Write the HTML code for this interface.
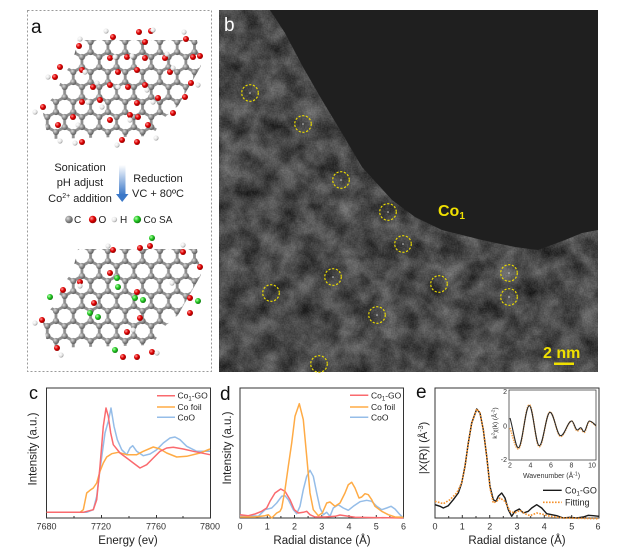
<!DOCTYPE html>
<html><head><meta charset="utf-8"><style>
html,body{margin:0;padding:0;background:#fff;}
svg{display:block;font-family:"Liberation Sans",Arial,sans-serif;}
</style></head><body>
<svg width="619" height="559" viewBox="0 0 619 559" xmlns="http://www.w3.org/2000/svg">
<defs>
<radialGradient id="gG" cx="0.35" cy="0.35" r="0.7"><stop offset="0" stop-color="#dcdcdc"/><stop offset="0.5" stop-color="#909090"/><stop offset="1" stop-color="#555"/></radialGradient>
<radialGradient id="gR" cx="0.35" cy="0.35" r="0.7"><stop offset="0" stop-color="#ff9a9a"/><stop offset="0.5" stop-color="#e00000"/><stop offset="1" stop-color="#8a0000"/></radialGradient>
<radialGradient id="gW" cx="0.35" cy="0.35" r="0.7"><stop offset="0" stop-color="#ffffff"/><stop offset="0.6" stop-color="#e6e6e6"/><stop offset="1" stop-color="#9a9a9a"/></radialGradient>
<radialGradient id="gN" cx="0.35" cy="0.35" r="0.7"><stop offset="0" stop-color="#b8ffb0"/><stop offset="0.5" stop-color="#22c822"/><stop offset="1" stop-color="#0e700e"/></radialGradient>
<linearGradient id="arr" x1="0" y1="0" x2="0" y2="1"><stop offset="0" stop-color="#ffffff"/><stop offset="1" stop-color="#3b78c8"/></linearGradient>
<pattern id="hex" width="17.32" height="30" patternUnits="userSpaceOnUse" x="4" y="2">
<path d="M8.66 0V5M8.66 5L0 10M8.66 5L17.32 10M0 10V20M17.32 10V20M0 20L8.66 25M17.32 20L8.66 25M8.66 25V30" stroke="#8e8e8e" stroke-width="2.8" fill="none"/>
<circle cx="8.66" cy="5" r="3.1" fill="url(#gG)"/><circle cx="0" cy="10" r="3.1" fill="url(#gG)"/><circle cx="17.32" cy="10" r="3.1" fill="url(#gG)"/>
<circle cx="0" cy="20" r="3.1" fill="url(#gG)"/><circle cx="17.32" cy="20" r="3.1" fill="url(#gG)"/><circle cx="8.66" cy="25" r="3.1" fill="url(#gG)"/>
</pattern>
<clipPath id="mol"><polygon points="78,40 197,40 201,66 186,92 178,106 164,118 152,136 48,139 42,108 56,95 63,75 72,64"/></clipPath>
<filter id="noise" x="0" y="0" width="1" height="1" color-interpolation-filters="sRGB">
<feTurbulence type="fractalNoise" baseFrequency="0.05" numOctaves="3" seed="7" result="a"/>
<feColorMatrix in="a" type="matrix" values="1 0 0 0 0  1 0 0 0 0  1 0 0 0 0  0 0 0 0 1" result="a2"/>
<feTurbulence type="fractalNoise" baseFrequency="0.7" numOctaves="1" seed="3" result="b"/>
<feColorMatrix in="b" type="matrix" values="1 0 0 0 0  1 0 0 0 0  1 0 0 0 0  0 0 0 0 1" result="b2"/>
<feComposite in="a2" in2="b2" operator="arithmetic" k1="0" k2="0.72" k3="0.28" k4="0" result="c"/>
<feColorMatrix in="c" type="matrix" values="0.62 0 0 0 -0.02  0.62 0 0 0 -0.02  0.62 0 0 0 -0.02  0 0 0 0 1"/>
</filter>
</defs>
<rect width="619" height="559" fill="#fff"/>

<!-- Panel a -->
<rect x="27.5" y="10.5" width="184" height="361" fill="none" stroke="#9a9a9a" stroke-dasharray="2,2"/>
<text x="31" y="33" font-size="19" fill="#111">a</text>

<g>
<rect x="30" y="30" width="180" height="120" fill="url(#hex)" clip-path="url(#mol)"/>
<g fill="url(#gR)">
<circle cx="79" cy="46" r="3"/><circle cx="113" cy="37" r="3"/><circle cx="139" cy="32" r="3"/><circle cx="151" cy="31" r="3"/><circle cx="145" cy="42" r="3"/><circle cx="186" cy="39" r="3"/><circle cx="193" cy="57" r="3"/><circle cx="200" cy="56" r="3"/><circle cx="60" cy="67" r="3"/><circle cx="55" cy="77" r="3"/><circle cx="110" cy="58" r="3"/><circle cx="127" cy="57" r="3"/><circle cx="145" cy="58" r="3"/><circle cx="165" cy="58" r="3"/><circle cx="82" cy="70" r="3"/><circle cx="118" cy="72" r="3"/><circle cx="137" cy="70" r="3"/><circle cx="170" cy="72" r="3"/><circle cx="93" cy="87" r="3"/><circle cx="110" cy="85" r="3"/><circle cx="128" cy="87" r="3"/><circle cx="145" cy="85" r="3"/><circle cx="158" cy="98" r="3"/><circle cx="185" cy="97" r="3"/><circle cx="191" cy="83" r="3"/><circle cx="82" cy="102" r="3"/><circle cx="100" cy="100" r="3"/><circle cx="137" cy="103" r="3"/><circle cx="43" cy="107" r="3"/><circle cx="58" cy="125" r="3"/><circle cx="73" cy="117" r="3"/><circle cx="82" cy="142" r="3"/><circle cx="110" cy="120" r="3"/><circle cx="130" cy="115" r="3"/><circle cx="138" cy="117" r="3"/><circle cx="122" cy="140" r="3"/><circle cx="137" cy="142" r="3"/><circle cx="148" cy="125" r="3"/><circle cx="173" cy="113" r="3"/>
</g>
<g fill="url(#gW)">
<circle cx="106" cy="31" r="2.6"/><circle cx="153" cy="30" r="2.6"/><circle cx="184" cy="32" r="2.6"/><circle cx="80" cy="39" r="2.6"/><circle cx="48" cy="77" r="2.6"/><circle cx="198" cy="85" r="2.6"/><circle cx="35" cy="112" r="2.6"/><circle cx="60" cy="141" r="2.6"/><circle cx="75" cy="143" r="2.6"/><circle cx="117" cy="145" r="2.6"/><circle cx="156" cy="138" r="2.6"/><circle cx="132" cy="56" r="2.6"/><circle cx="167" cy="54" r="2.6"/><circle cx="85" cy="72" r="2.6"/><circle cx="97" cy="83" r="2.6"/><circle cx="118" cy="87" r="2.6"/><circle cx="147" cy="90" r="2.6"/><circle cx="173" cy="68" r="2.6"/><circle cx="88" cy="102" r="2.6"/><circle cx="102" cy="107" r="2.6"/><circle cx="153" cy="102" r="2.6"/><circle cx="78" cy="125" r="2.6"/><circle cx="130" cy="120" r="2.6"/><circle cx="115" cy="57" r="2.6"/>
</g>
</g>

<g transform="translate(0,209)">
<rect x="30" y="30" width="180" height="120" fill="url(#hex)" clip-path="url(#mol)"/>
</g>
<g fill="url(#gR)">
<circle cx="140" cy="248" r="3"/><circle cx="113" cy="250" r="3"/><circle cx="183" cy="252" r="3"/><circle cx="200" cy="267" r="3"/><circle cx="63" cy="290" r="3"/><circle cx="80" cy="282" r="3"/><circle cx="110" cy="273" r="3"/><circle cx="137" cy="292" r="3"/><circle cx="190" cy="298" r="3"/><circle cx="190" cy="313" r="3"/><circle cx="94" cy="303" r="3"/><circle cx="140" cy="318" r="3"/><circle cx="127" cy="332" r="3"/><circle cx="42" cy="320" r="3"/><circle cx="57" cy="348" r="3"/><circle cx="123" cy="357" r="3"/><circle cx="137" cy="357" r="3"/><circle cx="152" cy="352" r="3"/><circle cx="150" cy="246" r="3"/>
</g>
<g fill="url(#gN)">
<circle cx="152" cy="238" r="3"/><circle cx="117" cy="278" r="3"/><circle cx="118" cy="287" r="3"/><circle cx="50" cy="297" r="3"/><circle cx="135" cy="298" r="3"/><circle cx="143" cy="300" r="3"/><circle cx="90" cy="313" r="3"/><circle cx="98" cy="317" r="3"/><circle cx="198" cy="301" r="3"/><circle cx="115" cy="350" r="3"/>
</g>
<g fill="url(#gW)">
<circle cx="108" cy="246" r="2.6"/><circle cx="183" cy="245" r="2.6"/><circle cx="80" cy="286" r="2.6"/><circle cx="172" cy="283" r="2.6"/><circle cx="35" cy="323" r="2.6"/><circle cx="61" cy="355" r="2.6"/><circle cx="157" cy="353" r="2.6"/><circle cx="133" cy="330" r="2.6"/>
</g>

<g font-size="11" fill="#222" text-anchor="middle">
<text x="80" y="171">Sonication</text>
<text x="80" y="186">pH adjust</text>
<text x="80" y="202">Co<tspan dy="-4" font-size="7">2+</tspan><tspan dy="4"> addition</tspan></text>
<text x="158" y="182">Reduction</text>
<text x="158" y="197">VC + 80ºC</text>
</g>
<rect x="119" y="165" width="6.5" height="30" fill="url(#arr)"/>
<polygon points="116,194 128.5,194 122.2,202" fill="#3b78c8"/>

<circle cx="69" cy="219.5" r="3.8" fill="url(#gG)"/>
<circle cx="92.7" cy="219.5" r="3.8" fill="url(#gR)"/>
<circle cx="114.3" cy="219.5" r="2.8" fill="url(#gW)"/>
<circle cx="137.3" cy="219.5" r="3.8" fill="url(#gN)"/>
<g font-size="10" fill="#222">
<text x="74" y="223">C</text><text x="98.5" y="223">O</text><text x="120" y="223">H</text><text x="143.5" y="223">Co SA</text>
</g>

<!-- Panel b -->
<rect x="219" y="10" width="379" height="362" fill="#4a4a4a" filter="url(#noise)"/>
<path d="M270 10 L285 33 L303 67 L322 100 L342 133 L362 167 L392 200 L415 217 L442 230 L482 240 L515 247 L538 250 L565 240 L582 233 L598 230 L598 10 Z" fill="#1f1f1f"/>
<g fill="none" stroke="#e8d800" stroke-width="1.2" stroke-dasharray="2.2,1.6">
<circle cx="250" cy="93" r="8.3"/><circle cx="303" cy="124" r="8.3"/><circle cx="341" cy="180" r="8.3"/><circle cx="388" cy="212" r="8.3"/><circle cx="403" cy="244" r="8.3"/><circle cx="333" cy="277" r="8.3"/><circle cx="271" cy="293" r="8.3"/><circle cx="377" cy="315" r="8.3"/><circle cx="439" cy="284" r="8.3"/><circle cx="509" cy="273" r="8.3"/><circle cx="509" cy="297" r="8.3"/><circle cx="319" cy="364" r="8.3"/>
</g>
<g fill="#ccc">
<circle cx="250" cy="93" r="0.8"/><circle cx="303" cy="124" r="0.8"/><circle cx="341" cy="180" r="0.8"/><circle cx="388" cy="212" r="0.8"/><circle cx="403" cy="244" r="0.8"/><circle cx="333" cy="277" r="0.8"/><circle cx="377" cy="315" r="0.8"/><circle cx="509" cy="273" r="0.8"/><circle cx="509" cy="297" r="0.8"/>
</g>
<text x="224" y="31" font-size="19" fill="#fff">b</text>
<text x="438" y="216" font-size="16" font-weight="bold" fill="#f0e000">Co<tspan dy="3" font-size="10">1</tspan></text>
<text x="543" y="358" font-size="16" font-weight="bold" fill="#f0e000">2 nm</text>
<rect x="554" y="362.5" width="20" height="2.5" fill="#f0e000"/>

<!-- Panel c -->
<text x="29" y="399" font-size="18" fill="#111">c</text>
<rect x="46.5" y="388" width="164" height="130" fill="none" stroke="#333" stroke-width="1"/>
<g stroke="#333" stroke-width="1">
<path d="M46.5 518v-3M74 518v-2M101.5 518v-3M129 518v-2M156.5 518v-3M183 518v-2M210.5 518v-3"/>
</g>
<g font-size="9" fill="#333" text-anchor="middle">
<text x="46.5" y="529.5">7680</text><text x="101" y="529.5">7720</text><text x="156" y="529.5">7760</text><text x="210" y="529.5">7800</text>
</g>
<text x="128" y="544" font-size="11.5" fill="#222" text-anchor="middle">Energy (ev)</text>
<text transform="translate(36.5,449) rotate(-90)" font-size="11.5" fill="#222" text-anchor="middle">Intensity (a.u.)</text>
<g fill="none" stroke-width="1.5" stroke-linejoin="round">
<polyline stroke="#95bde8" points="46.7,512.3 86.7,512.3 93.3,509.7 96.7,496.3 100,469.7 105,433 108.3,421.3 111,408 114,426.3 117.3,439.7 121.7,449.7 126.7,454.7 130,448 132.7,445.7 136.7,451.3 143.3,455.7 150,454 156.7,449.7 163.3,443 170,438 175,437 180,439.7 186.7,446.3 196.7,451.3 210,451.3"/>
<polyline stroke="#ffab45" points="46.7,512.3 80,512.3 83.3,509.7 86.7,493 90,490.3 93.3,488 96.7,483 100,471.3 103.3,463 106.7,457 111.7,453.7 118.3,452.3 126.7,454.7 136.7,454.7 143.3,451.3 153.3,447 160,449 166.7,453 176.7,457 186.7,456.3 200,453 210,449"/>
<polyline stroke="#fa6a6e" points="46.7,512.3 83.3,512.3 93.3,509.7 96.7,499.7 100,466.3 103.3,426.3 106,408 108.3,416.3 110.7,433 113.3,444.7 120,453 126.7,458 133.3,463 140,468 146.7,464.7 153.3,458 160,451.3 166.7,448 173.3,447.3 183.3,449 193.3,451.3 210,454.7"/>
</g>
<g stroke-width="1.5">
<line x1="157" y1="395.7" x2="175" y2="395.7" stroke="#fa6a6e"/>
<line x1="157" y1="407" x2="175" y2="407" stroke="#ffab45"/>
<line x1="157" y1="417.3" x2="175" y2="417.3" stroke="#95bde8"/>
</g>
<g font-size="8.5" fill="#222">
<text x="177.5" y="398.7">Co<tspan dy="2" font-size="6">1</tspan><tspan dy="-2">-GO</tspan></text>
<text x="177.5" y="410">Co foil</text>
<text x="177.5" y="420.3">CoO</text>
</g>

<!-- Panel d -->
<text x="220" y="400" font-size="19" fill="#111">d</text>
<rect x="240" y="388" width="163.5" height="130" fill="none" stroke="#333" stroke-width="1"/>
<g stroke="#333" stroke-width="1">
<path d="M240 518v-3M253.6 518v-2M267.3 518v-3M280.9 518v-2M294.5 518v-3M308.1 518v-2M321.8 518v-3M335.4 518v-2M349 518v-3M362.6 518v-2M376.3 518v-3M389.9 518v-2M403.5 518v-3"/>
</g>
<g font-size="9" fill="#333" text-anchor="middle">
<text x="240" y="529.5">0</text><text x="267.3" y="529.5">1</text><text x="294.5" y="529.5">2</text><text x="321.8" y="529.5">3</text><text x="349" y="529.5">4</text><text x="376.3" y="529.5">5</text><text x="403.5" y="529.5">6</text>
</g>
<text x="322" y="544" font-size="11.5" fill="#222" text-anchor="middle">Radial distance (Å)</text>
<text transform="translate(231,448) rotate(-90)" font-size="11.5" fill="#222" text-anchor="middle">Intensity (a.u.)</text>
<g fill="none" stroke-width="1.5" stroke-linejoin="round">
<polyline stroke="#95bde8" points="240,516.3 251.7,515.7 258.3,516.3 265,509.7 271.7,508 276.7,503 281.7,496.3 285,495.7 288.3,499.7 293.3,509.7 296.7,513.7 300,506.3 303.3,489.7 306.7,476.3 310,470.3 313.3,476.3 316.7,493 320,508 323.3,514.7 326.7,512.3 330,516.3 333.3,508 338.3,504.7 343.3,508 348.3,510.3 353.3,506.3 360,501.7 366.7,500.3 371.7,501.3 376.7,506.3 381.7,509.7 386.7,508 391,506.3 395,509 400,514.7 403.3,518"/>
<polyline stroke="#fa6a6e" points="240,514.7 248.3,515.7 255,514 261.7,511.3 266.7,508 270,501.3 275,493 280.7,489 285,491.3 290,499.7 294.3,509.7 298.3,513 303.3,512.3 306.7,511.3 310,514.7 315,517 325,517 335,516.3 340,515 345,515.7 355,517.3 403.3,518"/>
<polyline stroke="#ffab45" points="240,517 255,517 265,515.7 268.3,514.7 271.7,518 276.7,513 280,511.3 281.7,508 285,489.7 288.3,466.3 291.7,443 295,416.3 299.3,403.7 303.3,419.7 306.7,456.3 310,493 313.3,509.7 318.3,515.7 322.3,513 326.7,503 330,502 335,506.3 340,503 345,493 348.3,484.7 351.7,482.3 355,488 359,498 361.7,497 365,493.7 368.3,494.7 371.7,499.7 375,506.3 381.7,511.3 388.3,514.7 395,517 403.3,517.3"/>
</g>
<g stroke-width="1.5">
<line x1="350" y1="395.3" x2="368.3" y2="395.3" stroke="#fa6a6e"/>
<line x1="350" y1="407" x2="368.3" y2="407" stroke="#ffab45"/>
<line x1="350" y1="417.3" x2="368.3" y2="417.3" stroke="#95bde8"/>
</g>
<g font-size="8.5" fill="#222">
<text x="371" y="398.3">Co<tspan dy="2" font-size="6">1</tspan><tspan dy="-2">-GO</tspan></text>
<text x="371" y="410">Co foil</text>
<text x="371" y="420.3">CoO</text>
</g>

<!-- Panel e -->
<text x="416" y="398" font-size="19" fill="#111">e</text>
<rect x="435" y="388" width="164" height="130" fill="none" stroke="#333" stroke-width="1"/>
<g stroke="#333" stroke-width="1">
<path d="M435 518v-3M448.7 518v-2M462.3 518v-3M476 518v-2M489.7 518v-3M503.3 518v-2M517 518v-3M530.7 518v-2M544.3 518v-3M558 518v-2M571.7 518v-3M585.3 518v-2M599 518v-3"/>
</g>
<g font-size="9" fill="#333" text-anchor="middle">
<text x="435" y="529.5">0</text><text x="462.3" y="529.5">1</text><text x="489.7" y="529.5">2</text><text x="517" y="529.5">3</text><text x="544.3" y="529.5">4</text><text x="571.7" y="529.5">5</text><text x="598" y="529.5">6</text>
</g>
<text x="517" y="544" font-size="11.5" fill="#222" text-anchor="middle">Radial distance (Å)</text>
<text transform="translate(427,448) rotate(-90)" font-size="11" fill="#222" text-anchor="middle">|X(R)| (Å<tspan dy="-4" font-size="7">-3</tspan><tspan dy="4">)</tspan></text>
<g fill="none" stroke-linejoin="round">
<polyline stroke="#1a1a1a" stroke-width="1.4" points="435,504.7 440,506.3 443.3,508 448.3,505.7 453.3,499.7 458.3,493 461.7,483 465,466.3 468.3,443 471.7,423 476.7,409 480,413 483.3,429.7 486.7,456.3 490,486.3 493.3,499.7 496,501.3 498.3,496.3 501.7,493 505,498 508.3,509.7 511.7,516.3 515,511.3 519.3,509 523.3,513 528.3,511.3 531.7,508 536.7,504.7 541.7,508 546.7,513.7 551.7,514.7 556.7,515.7 563.3,518 570,517.3 576.7,518 583.3,517 588.3,515.3 593.3,515.7 599,516.3"/>
<polyline stroke="#f5902a" stroke-width="1.6" stroke-dasharray="1.6,1.4" points="435,501.3 443.3,503.7 450,499.7 456.7,493 461.7,483 465,466.3 468.3,443 471.7,423 476.7,409 480,413 483.3,429.7 486.7,456.3 490,488 493.3,503 496.7,501.3 500,498 505,501.3 510,511.3 515,513 520,510.3 525,513.7 530,515.7 536.7,513 541.7,514 550,516.3 563.3,518 599,518.7"/>
</g>
<line x1="543" y1="490.3" x2="561.7" y2="490.3" stroke="#1a1a1a" stroke-width="1.4"/>
<line x1="543" y1="502.3" x2="561.7" y2="502.3" stroke="#f5902a" stroke-width="1.6" stroke-dasharray="1.6,1.4"/>
<g font-size="9" fill="#222">
<text x="565" y="493.5">Co<tspan dy="2" font-size="6">1</tspan><tspan dy="-2">-GO</tspan></text>
<text x="565" y="505.5">Fitting</text>
</g>

<!-- Inset -->
<rect x="509" y="390" width="87" height="70" fill="#fff" stroke="#444" stroke-width="0.8"/>
<g font-size="7" fill="#333" text-anchor="end">
<text x="507" y="394">2</text><text x="507" y="428.5">0</text><text x="507" y="462">-2</text>
</g>
<g font-size="7" fill="#333" text-anchor="middle">
<text x="510" y="467.5">2</text><text x="530.5" y="467.5">4</text><text x="551" y="467.5">6</text><text x="571.5" y="467.5">8</text><text x="592" y="467.5">10</text>
</g>
<text x="551.5" y="478" font-size="7" fill="#333" text-anchor="middle">Wavenumber (Å<tspan dy="-2.5" font-size="5">-1</tspan><tspan dy="2.5">)</tspan></text>
<text transform="translate(497,423) rotate(-90)" font-size="6.5" fill="#333" text-anchor="middle">k<tspan dy="-2.5" font-size="4.5">2</tspan><tspan dy="2.5">χ(k) (Å</tspan><tspan dy="-2.5" font-size="4.5">-2</tspan><tspan dy="2.5">)</tspan></text>
<g fill="none">
<path stroke="#f5a24a" stroke-width="1.6" stroke-dasharray="1.4,1" d="M510,428 C513,437 515.5,449 518.3,449 C522.3,449 525.3,404.7 529.3,404.7 C532.9,404.7 535.7,446.7 539.3,446.7 C543.2,446.7 546.1,412 550,412 C553.9,412 556.8,436.5 560.7,436.5 C564.7,436.5 567.7,421 571.7,421 C573.7,421 575.3,431 577.3,431 C578.5,431 579.5,428.5 580.7,428.5 C581.9,428.5 582.8,432.5 584,432.5 C585.9,432.5 587.4,421.5 589.3,421.5 C592,421.5 594,424.5 596,426"/>
<path stroke="#2a2a2a" stroke-width="1.1" d="M510,418 C513,428 515.5,447.7 518.3,447.7 C522.3,447.7 525.3,405.7 529.3,405.7 C532.9,405.7 535.7,445.7 539.3,445.7 C543.2,445.7 546.1,412.3 550,412.3 C553.9,412.3 556.8,435.7 560.7,435.7 C564.7,435.7 567.7,421 571.7,421 C573.7,421 575.3,430 577.3,430 C578.5,430 579.5,427.7 580.7,427.7 C581.9,427.7 582.8,431.7 584,431.7 C585.9,431.7 587.4,421 589.3,421 C592,421 594,424 596,425.7"/>
</g>
</svg>
</body></html>
